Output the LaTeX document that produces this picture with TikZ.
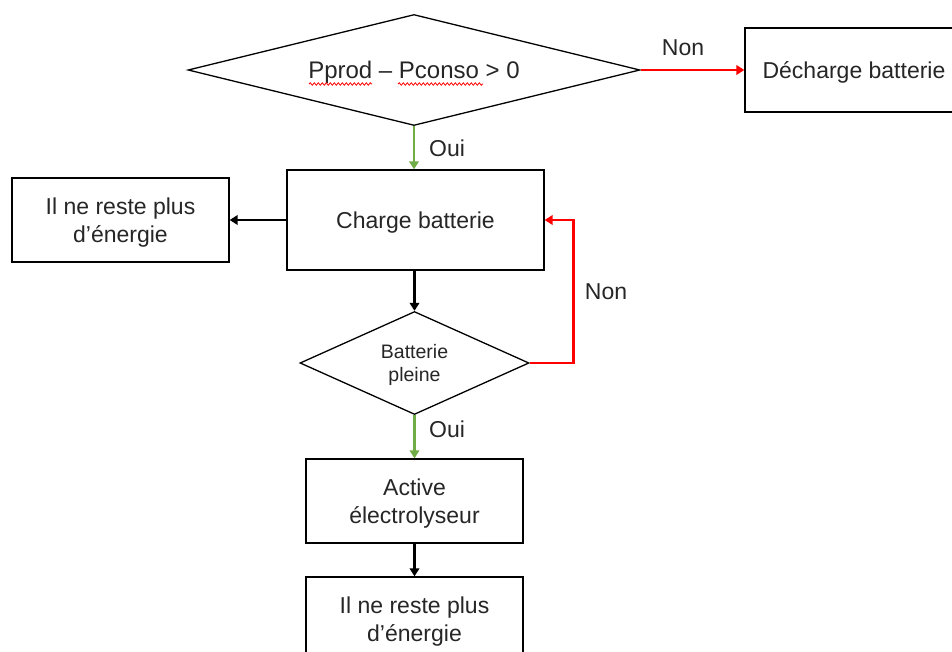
\documentclass[tikz,border=0pt]{standalone}
\usepackage{fontspec}
\setmainfont{Liberation Sans}
\usetikzlibrary{shapes.geometric,arrows.meta,decorations.pathmorphing}
\definecolor{txt}{RGB}{38,38,38}
\definecolor{ogreen}{RGB}{112,173,71}
\definecolor{ored}{RGB}{255,0,0}
\begin{document}
\begin{tikzpicture}[x=1pt,y=-1pt,
  box/.style={draw=black, line width=1.3pt, fill=white, text=txt, align=center, inner sep=0pt, text depth=0pt, font=\fontsize{23}{27.5}\selectfont},
  dec/.style={diamond, draw=black, line width=1.3pt, fill=white, text=txt, align=center, inner sep=0pt, text depth=0pt},
  arr/.style={line width=2.8pt, -{Triangle[length=8pt,width=9.5pt]}},
  lbl/.style={text=txt, font=\fontsize{23}{27}\selectfont, inner sep=0pt},
  wavy/.style={ored, line width=0.8pt, decorate, decoration={snake, amplitude=1.2pt, segment length=4pt}}]
\useasboundingbox (0,0) rectangle (952,652);
\clip (0,0) rectangle (952,652);
\fill[white] (0,0) rectangle (952,652);

\node[dec, minimum width=452pt, minimum height=111pt, aspect=4.07, font=\fontsize{24}{28}\selectfont] (d1) at (414,70) {Pprod – Pconso > 0};
\node[dec, minimum width=229pt, minimum height=103pt, aspect=2.22, font=\fontsize{19.5}{23.5}\selectfont] (d2) at (414.5,363) {Batterie\\pleine};

\node[box, minimum width=218pt, minimum height=84pt] (dech) at (854,70) {Décharge batterie};
\node[box, minimum width=217pt, minimum height=84pt] (left) at (120.5,220) {Il ne reste plus\\d’énergie};
\node[box, minimum width=257pt, minimum height=100pt] (charge) at (415.5,220) {Charge batterie};
\node[box, minimum width=217pt, minimum height=84pt] (act) at (414.5,501) {Active\\électrolyseur};
\node[box, minimum width=217pt, minimum height=84pt] (last) at (414.5,619) {Il ne reste plus\\d’énergie};

\draw[wavy] (309,84) -- (372,84);
\draw[wavy] (398,84) -- (483,84);

\draw[arr, ored] (d1.east) -- (dech.west);
\node[lbl] (non1) at (683,48) {Non};
\draw[arr, ogreen] (d1.south) -- (d1.south |- charge.north);
\node[lbl] (oui1) at (447,148.5) {Oui};
\draw[arr] (charge.west) -- (left.east);
\draw[arr] (d2.north |- charge.south) -- (d2.north);
\draw[arr, ored] (d2.east) -- ++(44,0) |- (charge.east);
\node[lbl] (non2) at (606,291.5) {Non};
\draw[arr, ogreen] (d2.south) -- (d2.south |- act.north);
\node[lbl] (oui2) at (447,429.5) {Oui};
\draw[arr] (act.south) -- (last.north);
\end{tikzpicture}
\end{document}
